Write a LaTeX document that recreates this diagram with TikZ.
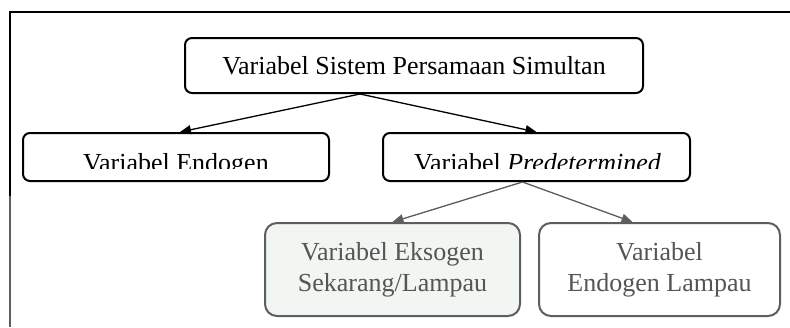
\documentclass[tikz,border=0pt]{standalone}
\usepackage{fontspec}
\setmainfont{Liberation Serif}
\usetikzlibrary{arrows.meta}
\definecolor{dimline}{HTML}{5E5E5E}
\definecolor{dimtext}{HTML}{555555}
\definecolor{tint}{HTML}{F1F6F2}
\tikzset{
  box/.style={draw, line width=2pt, rounded corners=7pt, inner sep=0pt, font=\fontsize{26}{31}\selectfont},
  lowbox/.style={draw=dimline, line width=2pt, rounded corners=12pt, inner sep=0pt, align=center, text=dimtext, font=\fontsize{26}{31}\selectfont},
  lbl/.style={inner sep=0pt, anchor=base, font=\fontsize{26}{31}\selectfont},
  arr/.style={line width=1.3pt, -{Triangle[length=11pt,width=9pt]}},
  garr/.style={draw=dimline, line width=1.3pt, -{Triangle[length=11pt,width=9pt]}, color=dimline}
}
\begin{document}
\begin{tikzpicture}[x=1pt,y=-1pt]
\useasboundingbox (0,0) rectangle (790,327);
% frame
\coordinate (fa) at (10,327);
\coordinate (fb) at (10,12);
\coordinate (fc) at (791,12);
\draw[line width=2.4pt, dimline] (fa) -- (10,195);
\draw[line width=2.4pt] (10,196) -- (fb) -- (fc);
% top box
\node[box, minimum width=458pt, minimum height=55pt] (top) at (414,65.5) {Variabel Sistem Persamaan Simultan};
% middle boxes
\node[box, minimum width=306pt, minimum height=48pt] (endo) at (176,157) {};
\node[box, minimum width=307pt, minimum height=48pt] (pre) at (536.5,157) {};
\begin{scope}
  \clip (24,134) rectangle (689,168);
  \node[lbl] (endot) at (176,171) {Variabel Endogen};
  \node[lbl] (pret) at (537.5,171) {Variabel \textit{Predetermined}};
\end{scope}
% bottom boxes
\node[lowbox, fill=tint, minimum width=255pt, minimum height=93pt] (eks) at (392.5,269.5) {Variabel Eksogen\\Sekarang/Lampau};
\node[lowbox, fill=white, minimum width=241pt, minimum height=93pt] (lag) at (659.5,269.5) {Variabel\\Endogen Lampau};
% connectors
\coordinate (ts) at ([xshift=-54pt]top.south);
\draw[arr] (ts) -- ([xshift=4pt]endo.north);
\draw[arr] (ts) -- (pre.north);
\coordinate (ps) at ([xshift=-14pt]pre.south);
\draw[garr] (ps) -- (eks.north);
\draw[garr] (ps) -- ([xshift=-27pt]lag.north);
\end{tikzpicture}
\end{document}
